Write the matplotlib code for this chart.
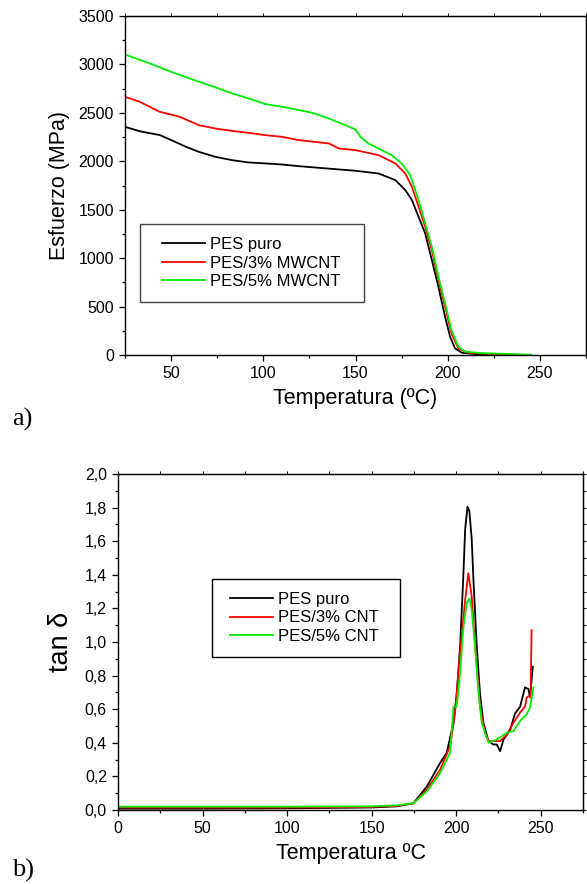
import numpy as np
import matplotlib
matplotlib.use('Agg')
import matplotlib.pyplot as plt
from matplotlib.ticker import MultipleLocator, FuncFormatter
from matplotlib.patches import Rectangle

plt.rcParams['font.family'] = ['Liberation Sans', 'DejaVu Sans']

# a) stress vs temperature
temp_puro = [25, 33, 44, 50, 58, 65, 74, 83, 92, 101, 110, 119, 135, 150, 162.5, 171.6, 177,
             180.6, 184.2, 187.8, 191.4, 195, 198.6, 201.3, 204, 207.6, 216.6, 230]
esf_puro = [2356, 2310, 2270, 2219, 2150, 2098, 2046, 2012, 1988, 1978, 1967, 1950, 1925, 1902, 1874, 1806, 1703,
            1600, 1427, 1255, 980, 700, 394, 188, 68, 24, 7, 0]

temp_3 = [25, 33, 38.5, 43.9, 54.7, 65.1, 74.1, 83, 92, 101, 110, 119, 135.6, 141, 150, 162.5, 171.6, 177,
          180.6, 184.2, 187.8, 191.4, 195, 198.6, 202, 205.8, 211, 225, 240]
esf_3 = [2666, 2614, 2562, 2511, 2459, 2373, 2338, 2314, 2294, 2270, 2253, 2219, 2184, 2132, 2115, 2063, 1978, 1874,
         1737, 1531, 1324, 1083, 774, 499, 224, 68, 24, 8, 0]

temp_5 = [25, 38.5, 50, 65.1, 74.1, 83, 92, 101, 110, 119, 126.6, 135.6, 144.6, 150, 152.7, 157, 162.5, 169.7, 175,
          179.7, 184.2, 187.8, 191.4, 195, 198.6, 202, 205.8, 209.4, 220, 234.6, 245.4]
esf_5 = [3103, 3010, 2924, 2821, 2763, 2701, 2649, 2591, 2564, 2530, 2500, 2442, 2373, 2328, 2253, 2184, 2132, 2063, 1978,
         1857, 1600, 1359, 1118, 808, 533, 258, 86, 34, 18, 10, 2]

# b) tan delta vs temperature
t_b_puro = [0, 50, 100, 150, 165, 174.7, 182.6, 190.5, 194.4, 198.4, 200.3, 202.3, 204.3, 205.3, 206.7, 207.8, 209.2,
            210.2, 212.2, 214.1, 216.1, 219.1, 222, 224, 226, 228, 231.9, 234.8, 237.8, 240.7, 242.7, 243.7, 245.3]
tan_puro = [0.008, 0.008, 0.01, 0.015, 0.022, 0.04, 0.139, 0.28, 0.34, 0.52, 0.69, 0.97, 1.41, 1.67, 1.805, 1.78, 1.61,
            1.37, 0.97, 0.69, 0.52, 0.41, 0.39, 0.39, 0.35, 0.42, 0.476, 0.575, 0.615, 0.73, 0.72, 0.67, 0.853]

t_b_3 = [0, 50, 100, 150, 165, 174.7, 182.6, 190.5, 196.4, 199.3, 202.3, 205.3, 207.2, 209.2, 211.2, 214.1, 217.1,
         219.1, 226, 230, 233.9, 237.8, 240.7, 241.7, 243.3, 244, 244.6]
tan_3 = [0.015, 0.015, 0.015, 0.018, 0.025, 0.04, 0.12, 0.24, 0.38, 0.575, 0.93, 1.25, 1.41, 1.27, 0.97, 0.615, 0.456,
         0.41, 0.41, 0.45, 0.52, 0.58, 0.615, 0.67, 0.68, 0.67, 1.07]

t_b_5 = [0, 50, 100, 150, 165, 174.7, 182.6, 190.5, 196.4, 198.4, 200.3, 202.3, 204.3, 206.2, 207.8, 209.2, 211.2,
         213.1, 215.1, 219.1, 224, 230, 233.9, 237.8, 241.7, 243.7, 245.7]
tan_5 = [0.02, 0.02, 0.02, 0.022, 0.028, 0.04, 0.11, 0.22, 0.34, 0.615, 0.615, 0.81, 1.09, 1.23, 1.26, 1.19, 0.97,
         0.71, 0.52, 0.40, 0.42, 0.46, 0.47, 0.53, 0.57, 0.61, 0.73]

fig = plt.figure(figsize=(5.87, 8.84), dpi=100)


def style_axes(ax, xmaj, xmin, ymaj, ymin):
    ax.xaxis.set_major_locator(MultipleLocator(xmaj))
    ax.xaxis.set_minor_locator(MultipleLocator(xmin))
    ax.yaxis.set_major_locator(MultipleLocator(ymaj))
    ax.yaxis.set_minor_locator(MultipleLocator(ymin))
    ax.tick_params(which='both', direction='out', labelsize=11.5, width=0.9)
    ax.tick_params(which='major', length=4.5)
    ax.tick_params(which='minor', length=2.5)
    for s in ax.spines.values():
        s.set_linewidth(1.0)
    # small ticks on the top and right edges
    top = ax.secondary_xaxis('top')
    top.xaxis.set_major_locator(MultipleLocator(xmaj))
    top.xaxis.set_minor_locator(MultipleLocator(xmin))
    top.tick_params(which='both', direction='out', length=2, width=0.7, labeltop=False)
    right = ax.secondary_yaxis('right')
    right.yaxis.set_major_locator(MultipleLocator(ymaj))
    right.yaxis.set_minor_locator(MultipleLocator(ymin))
    right.tick_params(which='both', direction='out', length=2, width=0.7, labelright=False)


def boxed_legend(ax, box, anchor, edge):
    ax.add_patch(Rectangle(box[:2], box[2], box[3], transform=ax.transAxes, facecolor='white',
                           edgecolor=edge, lw=1.0, zorder=4))
    leg = ax.legend(loc='center left', bbox_to_anchor=anchor, fontsize=12, frameon=False,
                    handlelength=2.6, handletextpad=0.3, labelspacing=0.2, borderpad=0, borderaxespad=0)
    leg.set_zorder(5)
    return leg


ax1 = fig.add_axes([125/587, 1-355/884, 461/587, 339/884])
ax1.plot(temp_puro, esf_puro, color='black', lw=1.3, label='PES puro')
ax1.plot(temp_3, esf_3, color='#ff0000', lw=1.3, label='PES/3% MWCNT')
ax1.plot(temp_5, esf_5, color='#00ee00', lw=1.3, label='PES/5% MWCNT')
ax1.set_xlim(25, 275)
ax1.set_ylim(0, 3500)
style_axes(ax1, 50, 25, 500, 250)
ax1.set_xlabel('Temperatura (ºC)', fontsize=15.5, labelpad=5)
ax1.set_ylabel('Esfuerzo (MPa)', fontsize=15.5, labelpad=6)
boxed_legend(ax1, ((140-125)/461, (355-302)/339, 224/461, 78/339),
             ((162-125)/461, (355-263)/339), '#444444')

ax2 = fig.add_axes([118/587, 1-810/884, 465/587, 336/884])
ax2.plot(t_b_puro, tan_puro, color='black', lw=1.3, label='PES puro')
ax2.plot(t_b_3, tan_3, color='#ff0000', lw=1.3, label='PES/3% CNT')
ax2.plot(t_b_5, tan_5, color='#00ee00', lw=1.3, label='PES/5% CNT')
ax2.set_xlim(0, 275)
ax2.set_ylim(0, 2.0)
style_axes(ax2, 50, 25, 0.2, 0.1)
ax2.yaxis.set_major_formatter(FuncFormatter(lambda v, p: f'{v:.1f}'.replace('.', ',')))
ax2.set_xlabel('Temperatura ºC', fontsize=15.5, labelpad=5)
ax2.set_ylabel('tan δ', fontsize=19.5, labelpad=8)
boxed_legend(ax2, ((212-118)/465, (810-657)/336, 188/465, 78/336),
             ((230-118)/465, (810-618)/336), 'black')

fig.text(12/587, 1-426/884, 'a)', family='Liberation Serif', fontsize=19)
fig.text(12/587, 1-877/884, 'b)', family='Liberation Serif', fontsize=19)

fig.savefig('out.png', dpi=100)
